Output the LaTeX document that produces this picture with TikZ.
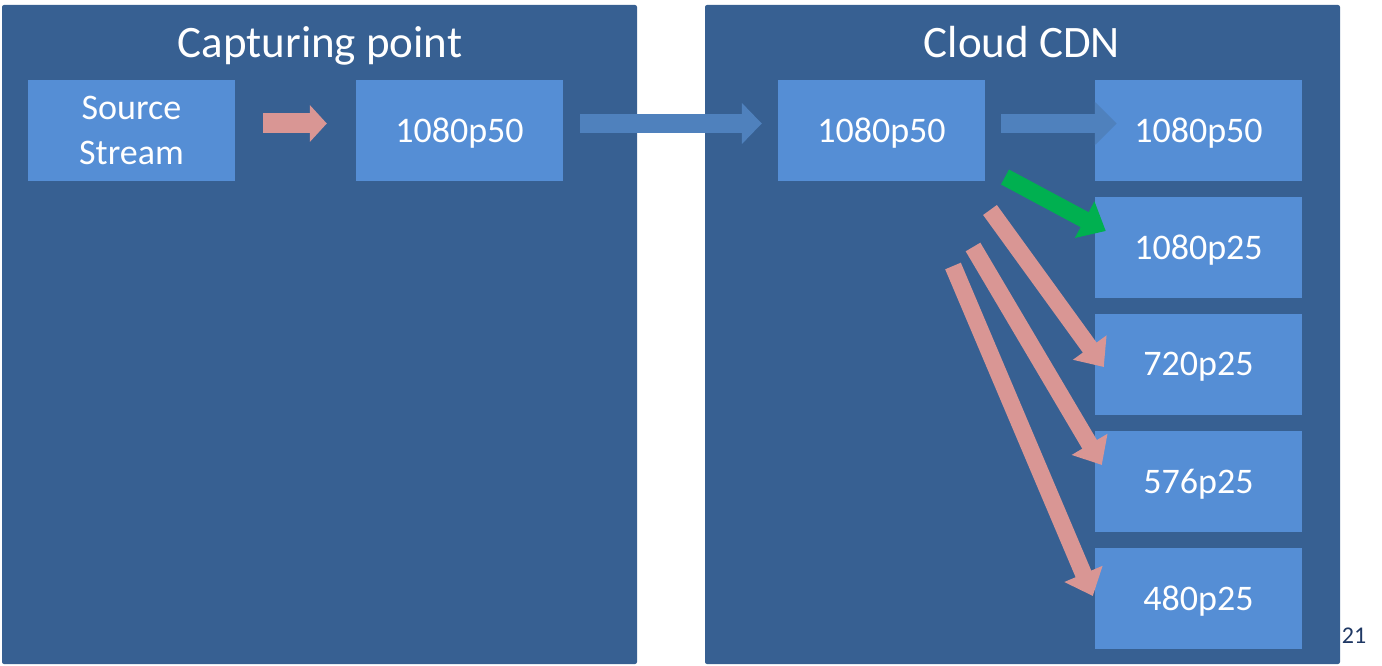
\documentclass[tikz,border=0pt]{standalone}
\usepackage{fontspec}
\setmainfont{Carlito}
\usetikzlibrary{arrows.meta,positioning}
\definecolor{panelblue}{HTML}{376092}
\definecolor{boxblue}{HTML}{558ED5}
\definecolor{flowblue}{HTML}{4F81BD}
\definecolor{rose}{HTML}{D99694}
\definecolor{gogreen}{HTML}{00B050}
\definecolor{pagenum}{HTML}{1F3864}

\begin{document}
\begin{tikzpicture}[x=1pt, y=-1pt,
		panel/.style={fill=panelblue, rounded corners=2pt, minimum width=635pt, minimum height=659pt, inner sep=0pt},
		title/.style={text=white, anchor=base, font=\fontsize{45}{54}\selectfont},
		stage/.style={fill=boxblue, text=white, minimum width=207pt, minimum height=101pt, inner sep=0pt, text depth=0pt, align=center, font=\fontsize{36}{45}\selectfont},
		flow/.style={line width=19pt, -{Triangle[width=40pt,length=20pt]}},
		fan/.style={line width=17pt, -{Triangle[width=40pt,length=24pt]}}]
		\useasboundingbox (0,0) rectangle (1382,666);
		\node[text=pagenum, font=\fontsize{24}{24}\selectfont] (page) at (1354,636) {21};
		% the two areas
		\node[panel] (capture) at (319.5,334.5) {};
		\node[panel] (cloud) at (1022.5,334.5) {};
		\node[title] (capturetitle) at (320,58) {Capturing point};
		\node[title] (cloudtitle) at (1022,58) {Cloud CDN};
		% capturing side
		\node[stage] (src) at (131.5,130.5) {Source\\Stream};
		\node[stage] (cap50) at (459.5,130.5) {1080p50};
		% cdn side
		\node[stage] (cdn50) at (881.5,130.5) {1080p50};
		\foreach \n/\y/\t in {out50/130.5/1080p50, out25/247/1080p25, out720/364/720p25, out576/481/576p25, out480/598/480p25} {
			\node[stage] (\n) at (1198.5,\y) {\t};
		}
		% arrows
		\draw[flow, rose, line width=20pt, -{Triangle[width=36pt,length=17pt]}, shorten <=28pt, shorten >=29pt] ([yshift=7pt]src.east) -- ([yshift=7pt]cap50.west);
		\draw[flow, flowblue, shorten <=17pt, shorten >=16pt] ([yshift=7pt]cap50.east) -- ([yshift=7pt]cdn50.west);
		\draw[flow, flowblue, -{Triangle[width=42pt,length=22pt]}, shorten <=16pt, shorten >=-22pt] ([yshift=7pt]cdn50.east) -- ([yshift=7pt]out50.west);
		\coordinate (g0) at (1005,177);
		\coordinate (p1) at (990,210);
		\coordinate (p2) at (973,247);
		\coordinate (p3) at (953,266);
		\draw[fan, gogreen] (g0) -- ([xshift=11pt,yshift=16pt]out25.west);
		\draw[fan, rose] (p1) -- ([xshift=9pt,yshift=-3pt]out720.west);
		\draw[fan, rose] (p2) -- ([xshift=7pt,yshift=16pt]out576.west);
		\draw[fan, rose] (p3) -- ([xshift=-2pt,yshift=2pt]out480.west);
	\end{tikzpicture}
\end{document}
